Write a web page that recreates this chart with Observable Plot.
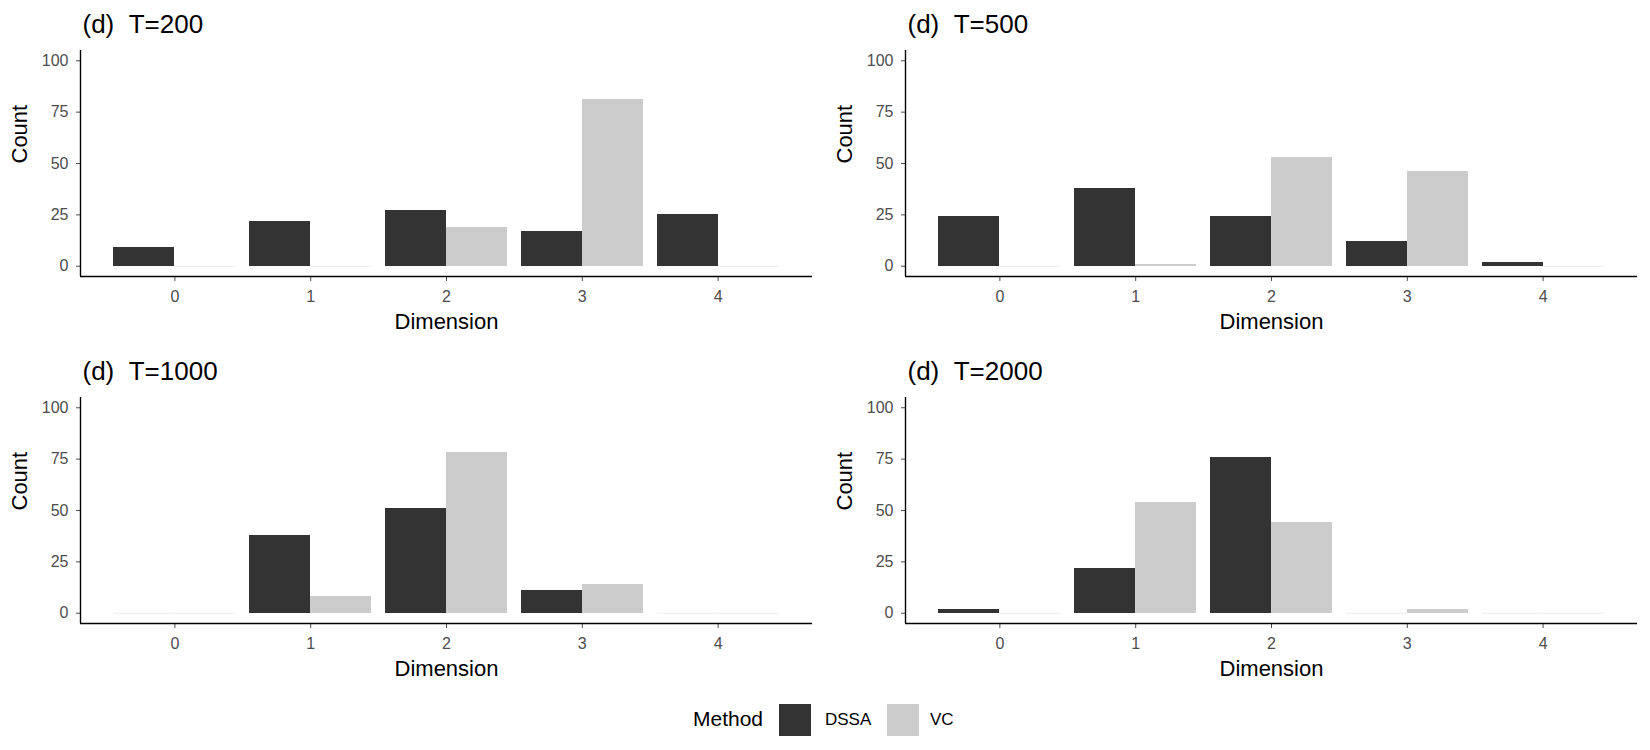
<!DOCTYPE html>
<html>
<head>
<meta charset="utf-8">
<script src="https://cdn.jsdelivr.net/npm/d3@7"></script>
<script src="https://cdn.jsdelivr.net/npm/@observablehq/plot@0.6"></script>
<style>
  html, body { margin: 0; padding: 0; background: #ffffff; }
  body { font-family: "Liberation Sans", Arial, Helvetica, sans-serif; }
  #chart { position: relative; width: 1650px; height: 750px; overflow: hidden; }
  .panel { position: absolute; }
  .legend-item { position: absolute; color: #000000; white-space: nowrap; line-height: 1; }
  .legend-key { position: absolute; width: 32px; height: 32px; }
</style>
</head>
<body>
<div id="chart"></div>
<script>
// Dimension categories and axis ticks
const dimensions = [0, 1, 2, 3, 4];
const countTicks = [0, 25, 50, 75, 100];

// Panel titles (sample size T)
const panelTitles = ["(d)\u00a0\u00a0T=200", "(d)\u00a0\u00a0T=500", "(d)\u00a0\u00a0T=1000", "(d)\u00a0\u00a0T=2000"];

// Methods and their fills
const methods = ["DSSA", "VC"];
const methodColors = ["#333333", "#cccccc"];

// Counts per dimension, one array per method and panel
const dssaT200 = [9, 22, 27, 17, 25];
const vcT200 = [0, 0, 19, 81, 0];
const dssaT500 = [24, 38, 24, 12, 2];
const vcT500 = [0, 1, 53, 46, 0];
const dssaT1000 = [0, 38, 51, 11, 0];
const vcT1000 = [0, 8, 78, 14, 0];
const dssaT2000 = [2, 22, 76, 0, 0];
const vcT2000 = [0, 54, 44, 2, 0];

const panelSeries = [
  [dssaT200, vcT200],
  [dssaT500, vcT500],
  [dssaT1000, vcT1000],
  [dssaT2000, vcT2000]
];

const FONT = '"Liberation Sans", Arial, Helvetica, sans-serif';
const BAR_WIDTH = 0.9;          // total width of a dodged group
const HALF = BAR_WIDTH / 2;      // width of one method's bar

// Long table for one panel: each row is one dodged bar
function panelRows(series) {
  const rows = [];
  series.forEach((values, m) => {
    values.forEach((count, i) => {
      const dim = dimensions[i];
      const x1 = dim - HALF + m * HALF;
      rows.push({method: methods[m], dim, count, x1, x2: x1 + HALF});
    });
  });
  return rows;
}

// x extent of the bars padded by 5% on each side
const xLo = dimensions[0] - HALF;
const xHi = dimensions[dimensions.length - 1] + HALF;
const xPad = (xHi - xLo) * 0.05;
const xDomain = [xLo - xPad, xHi + xPad];
// y limits 0..100 padded by 5%
const yDomain = [countTicks[0] - 5, countTicks[countTicks.length - 1] + 5];

function makePanel(title, series) {
  const rows = panelRows(series);
  const zeros = rows.filter(d => d.count === 0);
  return Plot.plot({
    width: 825,
    height: 346,
    marginLeft: 80,
    marginRight: 13,
    marginTop: 50,
    marginBottom: 70,
    style: {fontSize: "16px", fontFamily: FONT, color: "#4d4d4d", background: "#ffffff", overflow: "visible"},
    x: {domain: xDomain, ticks: dimensions, tickFormat: d => String(d), tickSize: 5, tickPadding: 9, label: null},
    y: {domain: yDomain, ticks: countTicks, tickFormat: d => String(d), tickSize: 4, tickPadding: 8, label: null},
    color: {domain: methods, range: methodColors},
    marks: [
      // zero-count bars show up as faint hairlines
      Plot.ruleY(zeros, {x1: "x1", x2: "x2", y: "count", stroke: "#ececec", strokeWidth: 1}),
      Plot.rect(rows, {x1: "x1", x2: "x2", y1: 0, y2: "count", fill: "method", shapeRendering: "crispEdges"}),
      // axis lines
      Plot.ruleX([xDomain[0]], {stroke: "#000000", strokeWidth: 1.4}),
      Plot.ruleY([yDomain[0]], {stroke: "#000000", strokeWidth: 1.4}),
      // panel title and axis titles
      Plot.text([title], {text: d => d, frameAnchor: "top-left", textAnchor: "start", lineAnchor: "bottom",
        dx: 2, dy: -18, fontSize: 26, fill: "#000000"}),
      Plot.text(["Dimension"], {text: d => d, frameAnchor: "bottom", dy: 52, fontSize: 22, fill: "#000000"}),
      Plot.text(["Count"], {text: d => d, frameAnchor: "left", dx: -61, rotate: -90, fontSize: 22, fill: "#000000"})
    ]
  });
}

const chart = document.getElementById("chart");
const panelLeft = [0, 825];
const panelTop = [0, 346.5];

panelSeries.forEach((series, i) => {
  const wrap = document.createElement("div");
  wrap.className = "panel";
  wrap.style.left = panelLeft[i % 2] + "px";
  wrap.style.top = panelTop[Math.floor(i / 2)] + "px";
  wrap.appendChild(makePanel(panelTitles[i], series));
  chart.appendChild(wrap);
});

// Legend: "Method" followed by one key per method
const legendTitle = "Method";
const legendCenterY = 720;
function addText(text, left, size) {
  const el = document.createElement("div");
  el.className = "legend-item";
  el.textContent = text;
  el.style.left = left + "px";
  el.style.fontSize = size + "px";
  el.style.top = (legendCenterY - size * 0.55) + "px";
  el.style.fontFamily = FONT;
  chart.appendChild(el);
}
addText(legendTitle, 693, 21);
const keyLefts = [779, 887];
const labelLefts = [825, 930];
methods.forEach((m, i) => {
  const key = document.createElement("div");
  key.className = "legend-key";
  key.style.left = keyLefts[i] + "px";
  key.style.top = (legendCenterY - 16) + "px";
  key.style.background = methodColors[i];
  chart.appendChild(key);
  addText(m, labelLefts[i], 17);
});
</script>
</body>
</html>
